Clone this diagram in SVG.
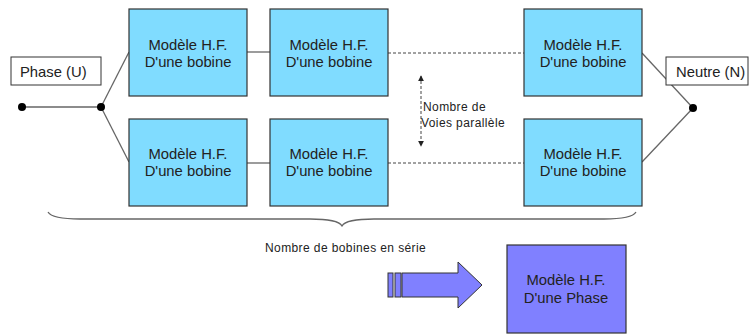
<svg xmlns="http://www.w3.org/2000/svg" width="749" height="334" viewBox="0 0 749 334">
<style>
.box{fill:#80dcff;stroke:#333;stroke-width:1.2}
.bt{font-family:"Liberation Sans",Arial,sans-serif;font-size:14.8px;fill:#222;text-anchor:middle}
.lbl{fill:#fff;stroke:#333;stroke-width:1}
.lt{font-family:"Liberation Sans",Arial,sans-serif;font-size:14.8px;fill:#222}
.st{font-family:"Liberation Sans",Arial,sans-serif;font-size:12px;letter-spacing:0.4px;fill:#222}
.ln{stroke:#666;stroke-width:1.3;fill:none}
.dl{stroke:#444;stroke-width:1;stroke-dasharray:3,2;fill:none}
</style>
<defs>
<marker id="ah" viewBox="0 0 8 8" refX="7" refY="4" markerWidth="6" markerHeight="6" orient="auto-start-reverse"><path d="M0,0 L8,4 L0,8 Z" fill="#222"/></marker>
</defs>
<rect width="749" height="334" fill="#fff"/>
<g id="connectors">
<line class="ln" x1="22" y1="107" x2="101" y2="107"/>
<line class="ln" x1="101" y1="107" x2="129" y2="52"/>
<line class="ln" x1="101" y1="107" x2="129" y2="162"/>
<line class="ln" x1="247" y1="52" x2="270" y2="52"/>
<line class="ln" x1="247" y1="163" x2="270" y2="163"/>
<line class="dl" x1="388" y1="53" x2="524" y2="53"/>
<line class="dl" x1="388" y1="163" x2="524" y2="163"/>
<line class="ln" x1="642" y1="53" x2="693" y2="108"/>
<line class="ln" x1="642" y1="162" x2="693" y2="108"/>
<line class="dl" x1="421" y1="76" x2="421" y2="146" marker-start="url(#ah)" marker-end="url(#ah)"/>
<path class="ln" d="M48,212 Q52,219 80,219 L310,219 Q338,219 342,226 Q346,219 374,219 L604,219 Q632,219 636,212"/>
</g>
<g id="dot-phase-end"><circle cx="22" cy="107" r="4" fill="#000"/></g>
<g id="dot-phase"><circle cx="101" cy="107" r="4" fill="#000"/></g>
<g id="dot-neutre"><circle cx="693" cy="108" r="4" fill="#000"/></g>
<g id="phase-label"><rect class="lbl" x="11" y="57" width="90" height="28"/><text class="lt" x="20" y="77">Phase (U)</text></g>
<g id="neutre-label"><rect class="lbl" x="666" y="57" width="82" height="28"/><text class="lt" x="676" y="77">Neutre (N)</text></g>
<g id="b11"><rect class="box" x="129" y="9" width="118" height="87"/><text class="bt" x="188" y="50">Modèle H.F.</text><text class="bt" x="188" y="67">D'une bobine</text></g>
<g id="b12"><rect class="box" x="270" y="9" width="118" height="87"/><text class="bt" x="329" y="50">Modèle H.F.</text><text class="bt" x="329" y="67">D'une bobine</text></g>
<g id="b13"><rect class="box" x="524" y="9" width="118" height="87"/><text class="bt" x="583" y="50">Modèle H.F.</text><text class="bt" x="583" y="67">D'une bobine</text></g>
<g id="b21"><rect class="box" x="129" y="119" width="118" height="87"/><text class="bt" x="188" y="159">Modèle H.F.</text><text class="bt" x="188" y="176">D'une bobine</text></g>
<g id="b22"><rect class="box" x="270" y="119" width="118" height="87"/><text class="bt" x="329" y="159">Modèle H.F.</text><text class="bt" x="329" y="176">D'une bobine</text></g>
<g id="b23"><rect class="box" x="524" y="119" width="118" height="87"/><text class="bt" x="583" y="159">Modèle H.F.</text><text class="bt" x="583" y="176">D'une bobine</text></g>
<g id="voies-label"><text class="st" x="423" y="111">Nombre de</text><text class="st" x="421" y="127">Voies parallèle</text></g>
<g id="serie-label"><text class="st" x="265" y="252">Nombre de bobines en série</text></g>
<g id="big-arrow">
<rect x="388" y="273" width="5" height="24" fill="#8080ff" stroke="#333" stroke-width="1"/>
<rect x="395" y="273" width="6" height="24" fill="#8080ff" stroke="#333" stroke-width="1"/>
<path d="M402,273 L458,273 L458,262 L482,285 L458,308 L458,297 L402,297 Z" fill="#8080ff" stroke="#333" stroke-width="1"/>
</g>
<g id="phase-model"><rect x="507" y="245" width="119" height="88" fill="#8080ff" stroke="#333" stroke-width="1.2"/><text class="bt" x="566" y="285">Modèle H.F.</text><text class="bt" x="566" y="303">D'une Phase</text></g>
</svg>
